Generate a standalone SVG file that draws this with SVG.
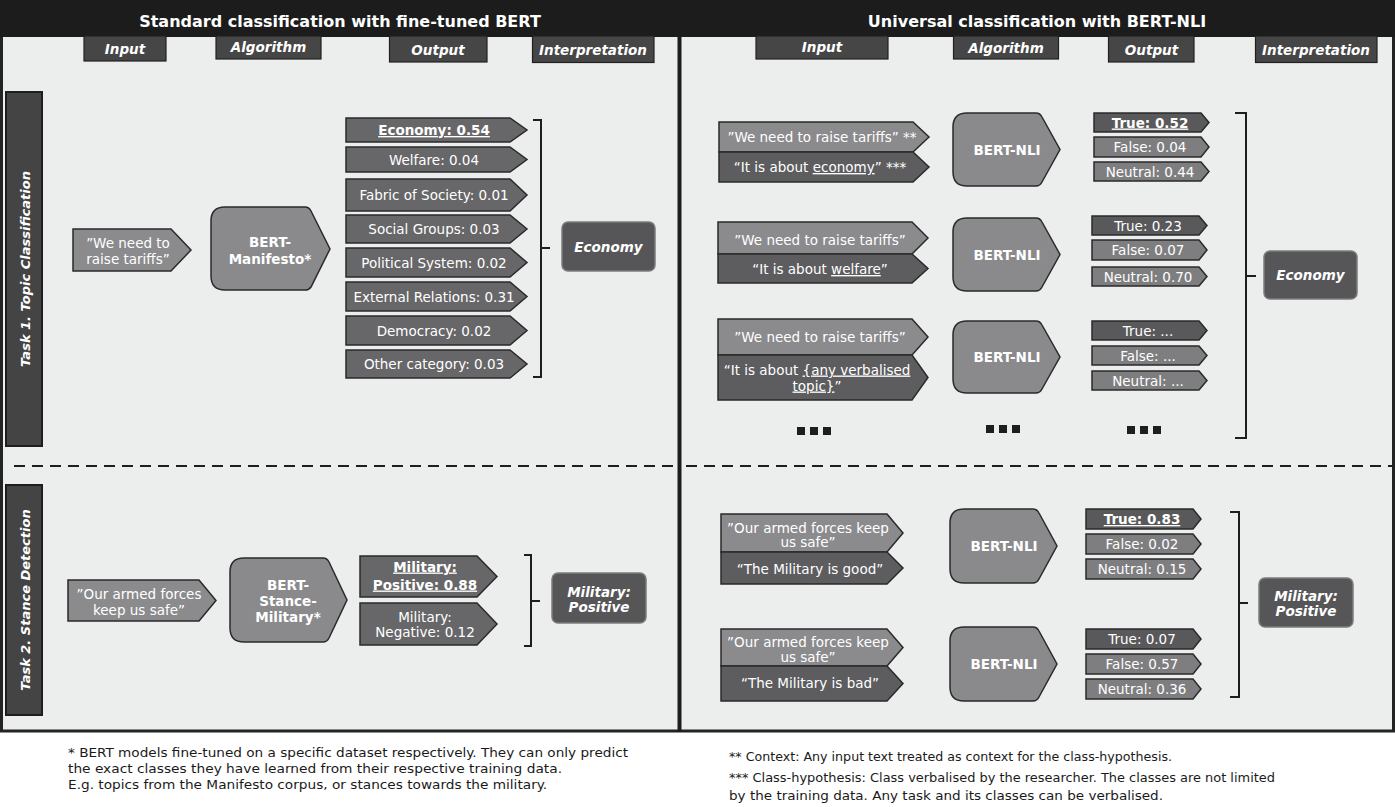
<svg xmlns="http://www.w3.org/2000/svg" width="1395" height="807" viewBox="0 0 1395 807">
  <style>
    .lbl { font-family: "DejaVu Sans", Verdana, sans-serif; fill: #ffffff; text-anchor: middle; font-size: 13.5px; }
    .b { font-weight: bold; }
    .bi { font-weight: bold; font-style: italic; }
    .u { text-decoration: underline; }
    .title { font-family: "DejaVu Sans", Verdana, sans-serif; font-weight: bold; font-size: 16px; fill: #ffffff; text-anchor: middle; }
    .tabtxt { font-family: "DejaVu Sans", Verdana, sans-serif; font-weight: bold; font-style: italic; font-size: 13.5px; fill: #ffffff; text-anchor: middle; }
    .side { font-family: "DejaVu Sans", Verdana, sans-serif; font-weight: bold; font-style: italic; font-size: 13px; fill: #ffffff; text-anchor: middle; }
    .note { font-family: "DejaVu Sans Condensed", "DejaVu Sans", sans-serif; font-stretch: condensed; font-size: 12.5px; fill: #1a1a1a; }
    .tab { fill: #464646; stroke: #202020; stroke-width: 1.2; }
    .task { fill: #444444; stroke: #1e1e1e; stroke-width: 2; }
    .ctx { fill: #8b8b8d; stroke: #2a2a2a; stroke-width: 1.5; }
    .alg { fill: #8a8a8c; stroke: #2a2a2a; stroke-width: 1.5; }
    .out { fill: #676769; stroke: #2a2a2a; stroke-width: 1.5; }
    .hyp { fill: #5d5d5f; stroke: #2a2a2a; stroke-width: 1.5; }
    .tru { fill: #59595b; stroke: #2a2a2a; stroke-width: 1.5; }
    .fal { fill: #7e7e80; stroke: #2a2a2a; stroke-width: 1.5; }
    .int { fill: #565658; stroke: #7c7c7c; stroke-width: 1.5; }
    .brk { fill: none; stroke: #1e1e1e; stroke-width: 2; }
    .dash { fill: none; stroke: #1e1e1e; stroke-width: 2.2; stroke-dasharray: 11 7; }
    .dots { fill: #1e1e1e; }
  </style>

  <!-- panels and header band -->
  <g id="frame">
    <rect x="1.5" y="30" width="1392" height="701" fill="#eceeed" stroke="#232323" stroke-width="3"/>
    <rect x="0" y="0" width="1395" height="37" fill="#1c1c1c"/>
    <rect x="677.5" y="0" width="4" height="732" fill="#1c1c1c"/>
    <text class="title" x="340" y="26.5">Standard classification with fine-tuned BERT</text>
    <text class="title" x="1037" y="26.5">Universal classification with BERT-NLI</text>
  </g>

  <!-- column tabs -->
  <g id="tabs-left">
    <rect class="tab" x="84" y="36" width="82" height="25"/>
    <text class="tabtxt" x="125" y="53.5">Input</text>
    <rect class="tab" x="216" y="36" width="105" height="23"/>
    <text class="tabtxt" x="268.5" y="51.5">Algorithm</text>
    <rect class="tab" x="389.5" y="36" width="97.5" height="26"/>
    <text class="tabtxt" x="438" y="54.5">Output</text>
    <rect class="tab" x="532.5" y="36" width="121.5" height="26.5"/>
    <text class="tabtxt" x="593" y="54.5">Interpretation</text>
  </g>
  <g id="tabs-right">
    <rect class="tab" x="756" y="36" width="132" height="23"/>
    <text class="tabtxt" x="822" y="52">Input</text>
    <rect class="tab" x="953.5" y="36" width="105" height="23"/>
    <text class="tabtxt" x="1006" y="52.5">Algorithm</text>
    <rect class="tab" x="1108.5" y="36" width="85.5" height="26"/>
    <text class="tabtxt" x="1151.5" y="54.5">Output</text>
    <rect class="tab" x="1255.5" y="36" width="121.5" height="26.5"/>
    <text class="tabtxt" x="1316" y="54.5">Interpretation</text>
  </g>

  <!-- task side labels -->
  <g id="task1-label">
    <rect class="task" x="6" y="92" width="36" height="354"/>
    <text class="side" x="30" y="269" transform="rotate(-90 30 269)">Task 1. Topic Classification</text>
  </g>
  <g id="task2-label">
    <rect class="task" x="6" y="485" width="36" height="230"/>
    <text class="side" x="30" y="600" transform="rotate(-90 30 600)">Task 2. Stance Detection</text>
  </g>

  <!-- separators, brackets and ellipses -->
  <g id="connectors">
    <line class="dash" x1="14" y1="466" x2="676" y2="466"/>
    <line class="dash" x1="686" y1="466" x2="1392" y2="466"/>
    <path class="brk" d="M533 120H541V377H533M541 248H550"/>
    <path class="brk" d="M524 555H531V646H524M531 601H540"/>
    <path class="brk" d="M1235 113H1246V438H1235M1246 276H1256"/>
    <path class="brk" d="M1230 512H1239V697H1230M1239 603H1248"/>
    <g class="dots">
      <rect x="797" y="427" width="8" height="8"/><rect x="810" y="427" width="8" height="8"/><rect x="823" y="427" width="8" height="8"/>
      <rect x="986" y="425" width="8" height="8"/><rect x="999" y="425" width="8" height="8"/><rect x="1012" y="425" width="8" height="8"/>
      <rect x="1127" y="426" width="8" height="8"/><rect x="1140" y="426" width="8" height="8"/><rect x="1153" y="426" width="8" height="8"/>
    </g>
  </g>

  <!-- Task 1, standard classification -->
  <g id="std-t1-input">
    <path class="ctx" d="M73 229H171L191 250L171 271H73Z"/>
    <text class="lbl" x="128" y="247.5">”We need to</text>
    <text class="lbl" x="128" y="263.5">raise tariffs”</text>
  </g>
  <g id="std-t1-model">
    <path class="alg" d="M225 207H305Q309 207 311 211L330 249L311 287Q309 290 305 290H225Q211 290 211 276V221Q211 207 225 207Z"/>
    <text class="lbl b" x="270" y="247">BERT-</text>
    <text class="lbl b" x="270" y="264">Manifesto*</text>
  </g>
  <g id="std-t1-outputs">
    <path class="out" d="M346 118H510L527 130L510 142H346Z"/>
    <text class="lbl b u" x="434" y="135">Economy: 0.54</text>
    <path class="out" d="M346 147H510L527 159.5L510 172H346Z"/>
    <text class="lbl" x="434" y="164.5">Welfare: 0.04</text>
    <path class="out" d="M346 179H510L527 195L510 211H346Z"/>
    <text class="lbl" x="434" y="200">Fabric of Society: 0.01</text>
    <path class="out" d="M346 215H510L527 229L510 243H346Z"/>
    <text class="lbl" x="434" y="234">Social Groups: 0.03</text>
    <path class="out" d="M346 248H510L527 262.5L510 277H346Z"/>
    <text class="lbl" x="434" y="267.5">Political System: 0.02</text>
    <path class="out" d="M346 282H510L527 296.5L510 311H346Z"/>
    <text class="lbl" x="434" y="301.5">External Relations: 0.31</text>
    <path class="out" d="M346 316H510L527 330.5L510 345H346Z"/>
    <text class="lbl" x="434" y="335.5">Democracy: 0.02</text>
    <path class="out" d="M346 350H510L527 364L510 378H346Z"/>
    <text class="lbl" x="434" y="369">Other category: 0.03</text>
  </g>
  <g id="std-t1-result">
    <rect class="int" x="562" y="222" width="93" height="49" rx="6"/>
    <text class="lbl bi" x="608.5" y="251.5">Economy</text>
  </g>

  <!-- Task 2, standard classification -->
  <g id="std-t2-input">
    <path class="ctx" d="M68 580H199L216 600.5L199 621H68Z"/>
    <text class="lbl" x="139" y="598.5">”Our armed forces</text>
    <text class="lbl" x="139" y="614.5">keep us safe”</text>
  </g>
  <g id="std-t2-model">
    <path class="alg" d="M244 558H323Q327 558 329 562L347 600L329 638Q327 642 323 642H244Q230 642 230 628V572Q230 558 244 558Z"/>
    <text class="lbl b" x="288" y="590">BERT-</text>
    <text class="lbl b" x="288" y="606">Stance-</text>
    <text class="lbl b" x="288" y="622">Military*</text>
  </g>
  <g id="std-t2-outputs">
    <path class="out" d="M360 556H477L497 576.5L477 597H360Z"/>
    <text class="lbl b u" x="425" y="571.5">Military:</text>
    <text class="lbl b u" x="425" y="589.5">Positive: 0.88</text>
    <path class="out" d="M360 603H477L497 624L477 645H360Z"/>
    <text class="lbl" x="425" y="621.5">Military:</text>
    <text class="lbl" x="425" y="637">Negative: 0.12</text>
  </g>
  <g id="std-t2-result">
    <rect class="int" x="552" y="573" width="94" height="50" rx="6"/>
    <text class="lbl bi" x="599" y="597">Military:</text>
    <text class="lbl bi" x="599" y="612">Positive</text>
  </g>

  <!-- Task 1, universal classification -->
  <g id="nli-t1-pair1">
    <path class="ctx" d="M719 122H913L929 137L913 152H719Z"/>
    <text class="lbl" x="822" y="141.5">”We need to raise tariffs” **</text>
    <path class="hyp" d="M719 152H913L929 167L913 182H719Z"/>
    <text class="lbl" x="820" y="172">“It is about <tspan class="u">economy</tspan>” ***</text>
  </g>
  <g id="nli-t1-model1">
    <path class="alg" d="M967 113H1036Q1040 113 1042 117L1060 149.5L1042 182Q1040 186 1036 186H967Q953 186 953 172V127Q953 113 967 113Z"/>
    <text class="lbl b" x="1007" y="154.5">BERT-NLI</text>
  </g>
  <g id="nli-t1-out1">
    <path class="tru" d="M1094 113H1201L1209 122.5L1201 132H1094Z"/>
    <text class="lbl b u" x="1150" y="127.5">True: 0.52</text>
    <path class="fal" d="M1094 137H1201L1209 147L1201 157H1094Z"/>
    <text class="lbl" x="1150" y="152">False: 0.04</text>
    <path class="fal" d="M1094 162H1201L1209 171.5L1201 181H1094Z"/>
    <text class="lbl" x="1150" y="176.5">Neutral: 0.44</text>
  </g>

  <g id="nli-t1-pair2">
    <path class="ctx" d="M718 222H912L928 238L912 254H718Z"/>
    <text class="lbl" x="820" y="244.5">”We need to raise tariffs”</text>
    <path class="hyp" d="M718 254H912L928 268.5L912 283H718Z"/>
    <text class="lbl" x="820" y="274">“It is about <tspan class="u">welfare</tspan>”</text>
  </g>
  <g id="nli-t1-model2">
    <path class="alg" d="M967 218H1036Q1040 218 1042 222L1060 254.5L1042 287Q1040 291 1036 291H967Q953 291 953 277V232Q953 218 967 218Z"/>
    <text class="lbl b" x="1007" y="259.5">BERT-NLI</text>
  </g>
  <g id="nli-t1-out2">
    <path class="tru" d="M1092 216H1199L1207 225.5L1199 235H1092Z"/>
    <text class="lbl" x="1148" y="230.5">True: 0.23</text>
    <path class="fal" d="M1092 240H1199L1207 250L1199 260H1092Z"/>
    <text class="lbl" x="1148" y="255">False: 0.07</text>
    <path class="fal" d="M1092 267H1199L1207 276.5L1199 286H1092Z"/>
    <text class="lbl" x="1148" y="281.5">Neutral: 0.70</text>
  </g>

  <g id="nli-t1-pair3">
    <path class="ctx" d="M718 319H912L928 337L912 355H718Z"/>
    <text class="lbl" x="820" y="341.5">”We need to raise tariffs”</text>
    <path class="hyp" d="M718 355H912L928 377.5L912 400H718Z"/>
    <text class="lbl" x="817" y="374.5">“It is about <tspan class="u">{any verbalised</tspan></text>
    <text class="lbl" x="817" y="390.5"><tspan class="u">topic}</tspan>”</text>
  </g>
  <g id="nli-t1-model3">
    <path class="alg" d="M967 321H1036Q1040 321 1042 325L1060 357L1042 389Q1040 393 1036 393H967Q953 393 953 379V335Q953 321 967 321Z"/>
    <text class="lbl b" x="1007" y="362">BERT-NLI</text>
  </g>
  <g id="nli-t1-out3">
    <path class="tru" d="M1092 321H1199L1207 330.5L1199 340H1092Z"/>
    <text class="lbl" x="1148" y="335.5">True: ...</text>
    <path class="fal" d="M1092 346H1199L1207 355.5L1199 365H1092Z"/>
    <text class="lbl" x="1148" y="360.5">False: ...</text>
    <path class="fal" d="M1092 371H1199L1207 380.5L1199 390H1092Z"/>
    <text class="lbl" x="1148" y="385.5">Neutral: ...</text>
  </g>
  <g id="nli-t1-result">
    <rect class="int" x="1264" y="251" width="93" height="48" rx="6"/>
    <text class="lbl bi" x="1310.5" y="280">Economy</text>
  </g>

  <!-- Task 2, universal classification -->
  <g id="nli-t2-pair1">
    <path class="ctx" d="M721 514H887L903 533L887 552H721Z"/>
    <text class="lbl" x="808" y="532.5">”Our armed forces keep</text>
    <text class="lbl" x="808" y="547">us safe”</text>
    <path class="hyp" d="M721 552H887L903 568L887 584H721Z"/>
    <text class="lbl" x="810" y="573.5">“The Military is good”</text>
  </g>
  <g id="nli-t2-model1">
    <path class="alg" d="M964 509H1033Q1037 509 1039 513L1057 546L1039 579Q1037 583 1033 583H964Q950 583 950 569V523Q950 509 964 509Z"/>
    <text class="lbl b" x="1004" y="551">BERT-NLI</text>
  </g>
  <g id="nli-t2-out1">
    <path class="tru" d="M1086 509H1193L1201 519L1193 529H1086Z"/>
    <text class="lbl b u" x="1142" y="524">True: 0.83</text>
    <path class="fal" d="M1086 534H1193L1201 544L1193 554H1086Z"/>
    <text class="lbl" x="1142" y="549">False: 0.02</text>
    <path class="fal" d="M1086 559H1193L1201 569L1193 579H1086Z"/>
    <text class="lbl" x="1142" y="574">Neutral: 0.15</text>
  </g>

  <g id="nli-t2-pair2">
    <path class="ctx" d="M721 629H887L903 647.5L887 666H721Z"/>
    <text class="lbl" x="808" y="646.5">”Our armed forces keep</text>
    <text class="lbl" x="808" y="661.5">us safe”</text>
    <path class="hyp" d="M721 666H887L903 683.5L887 701H721Z"/>
    <text class="lbl" x="810" y="688">“The Military is bad”</text>
  </g>
  <g id="nli-t2-model2">
    <path class="alg" d="M964 627H1033Q1037 627 1039 631L1057 664L1039 697Q1037 701 1033 701H964Q950 701 950 687V641Q950 627 964 627Z"/>
    <text class="lbl b" x="1004" y="669">BERT-NLI</text>
  </g>
  <g id="nli-t2-out2">
    <path class="tru" d="M1086 629H1193L1201 639L1193 649H1086Z"/>
    <text class="lbl" x="1142" y="644">True: 0.07</text>
    <path class="fal" d="M1086 654H1193L1201 664L1193 674H1086Z"/>
    <text class="lbl" x="1142" y="669">False: 0.57</text>
    <path class="fal" d="M1086 679H1193L1201 689L1193 699H1086Z"/>
    <text class="lbl" x="1142" y="694">Neutral: 0.36</text>
  </g>
  <g id="nli-t2-result">
    <rect class="int" x="1259" y="578" width="94" height="49" rx="6"/>
    <text class="lbl bi" x="1306" y="601">Military:</text>
    <text class="lbl bi" x="1306" y="616">Positive</text>
  </g>

  <!-- footnotes -->
  <g id="notes">
    <text class="note" x="68" y="756.5" textLength="560" lengthAdjust="spacingAndGlyphs">* BERT models fine-tuned on a specific dataset respectively. They can only predict</text>
    <text class="note" x="68" y="772.5" textLength="494" lengthAdjust="spacingAndGlyphs">the exact classes they have learned from their respective training data.</text>
    <text class="note" x="68" y="788.5" textLength="479" lengthAdjust="spacingAndGlyphs">E.g. topics from the Manifesto corpus, or stances towards the military.</text>
    <text class="note" x="729" y="761" textLength="443" lengthAdjust="spacingAndGlyphs">** Context: Any input text treated as context for the class-hypothesis.</text>
    <text class="note" x="729" y="782" textLength="546" lengthAdjust="spacingAndGlyphs">*** Class-hypothesis: Class verbalised by the researcher. The classes are not limited</text>
    <text class="note" x="729" y="800" textLength="434" lengthAdjust="spacingAndGlyphs">by the training data. Any task and its classes can be verbalised.</text>
  </g>
</svg>
